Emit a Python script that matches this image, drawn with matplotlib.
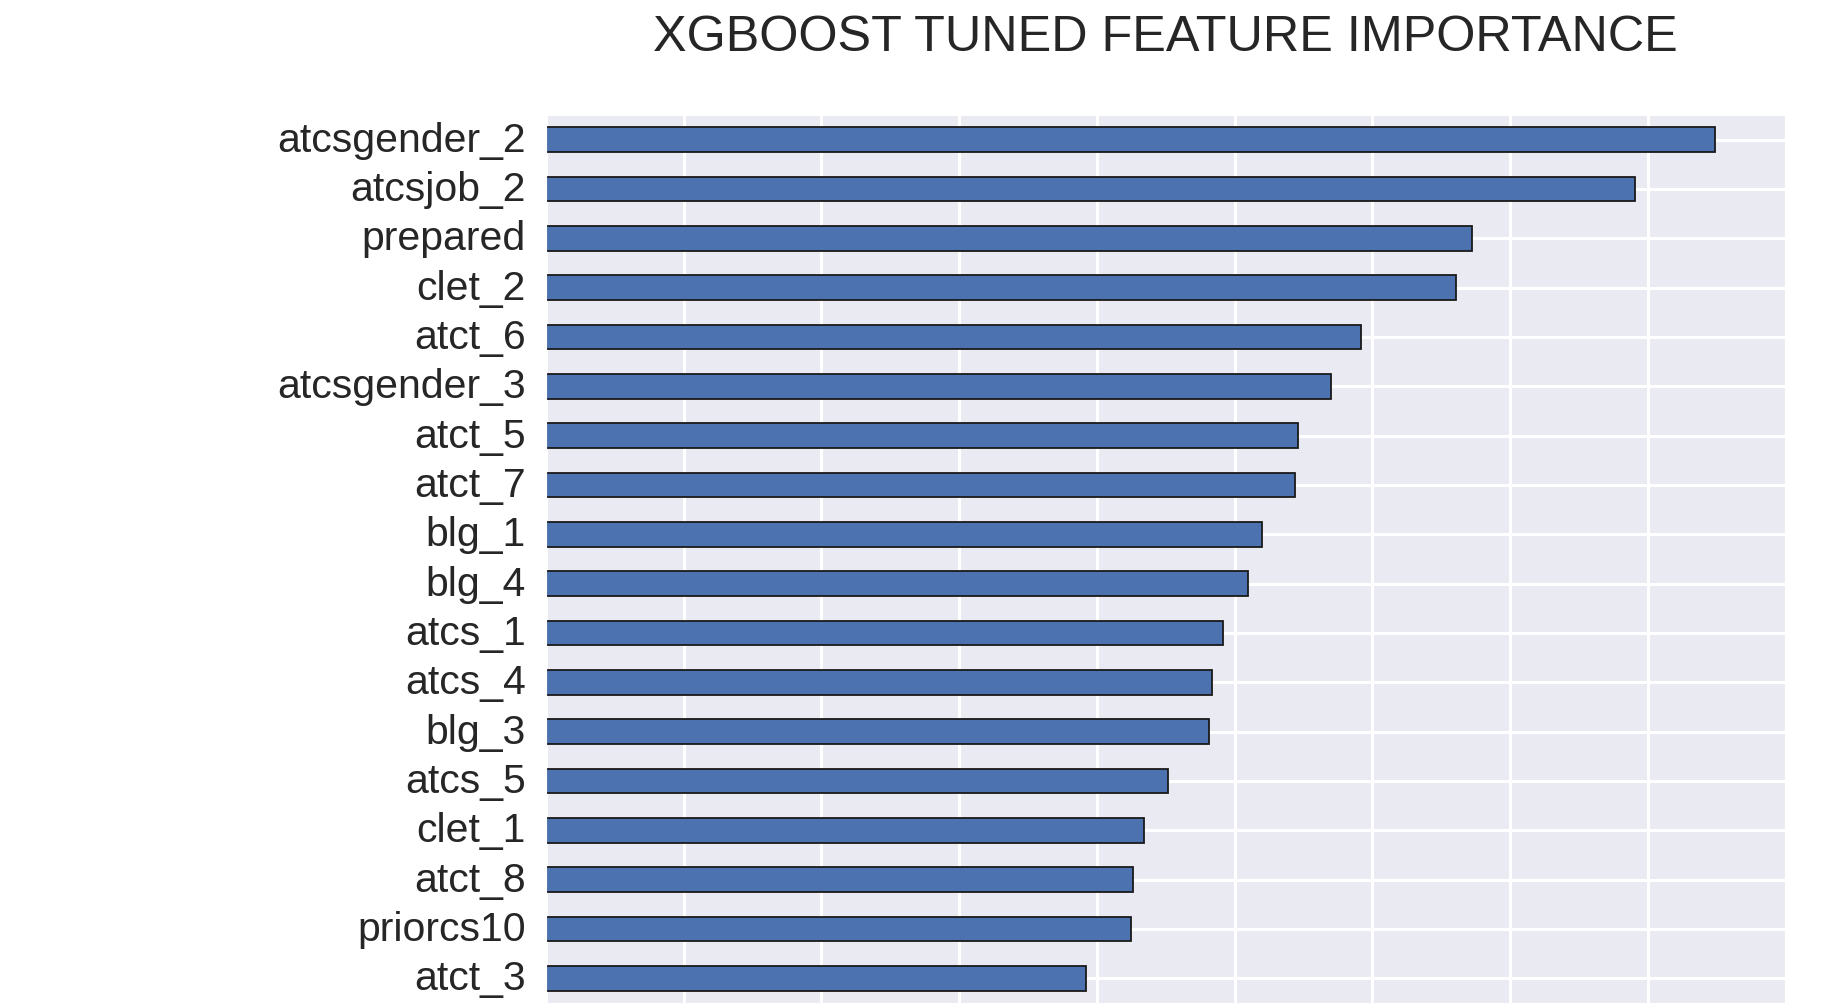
import numpy as np
import matplotlib
matplotlib.use("Agg")
import matplotlib.pyplot as plt
import seaborn as sns

# feature importances, top to bottom as shown
features = ['atcsgender_2', 'atcsjob_2', 'prepared', 'clet_2', 'atct_6',
            'atcsgender_3', 'atct_5', 'atct_7', 'blg_1', 'blg_4', 'atcs_1',
            'atcs_4', 'blg_3', 'atcs_5', 'clet_1', 'atct_8', 'priorcs10', 'atct_3']
importance = [0.08484, 0.07903, 0.06720, 0.06604, 0.05919,
              0.05701, 0.05461, 0.05440, 0.05200, 0.05098, 0.04917,
              0.04837, 0.04815, 0.04518, 0.04339, 0.04259, 0.04245, 0.03918]

sns.set_style('darkgrid')
plt.rcParams['font.family'] = ['Liberation Sans', 'DejaVu Sans']

fig = plt.figure(figsize=(18.41, 10.04), dpi=100)
ax = fig.add_axes([546 / 1841, 0.0, (1785 - 546) / 1841, 888 / 1004])

# barh draws from the bottom, so reverse the order
feat = features[::-1]
vals = importance[::-1]
pos = np.arange(len(feat))
ax.barh(pos, vals, height=0.5, color='#4C72B0', edgecolor='#1a1a1a',
        linewidth=1.3, zorder=2)

ax.set_ylim(-0.5, len(feat) - 0.5)
ax.set_xlim(0, 0.08995)
ax.set_xticks(np.arange(0, 0.09, 0.01))
ax.set_xticklabels([])
ax.set_yticks(pos)
ax.set_yticklabels(feat, fontsize=29.5, color='#262626', va='center')
ax.tick_params(axis='y', length=0, pad=14.5)
ax.tick_params(axis='x', length=0)
ax.grid(True, color='white', linewidth=2.2)
ax.set_axisbelow(True)

ax.set_title('XGBOOST TUNED FEATURE IMPORTANCE', fontsize=36.3, color='#262626',
             pad=47)

fig.savefig('out.png', dpi=100)
